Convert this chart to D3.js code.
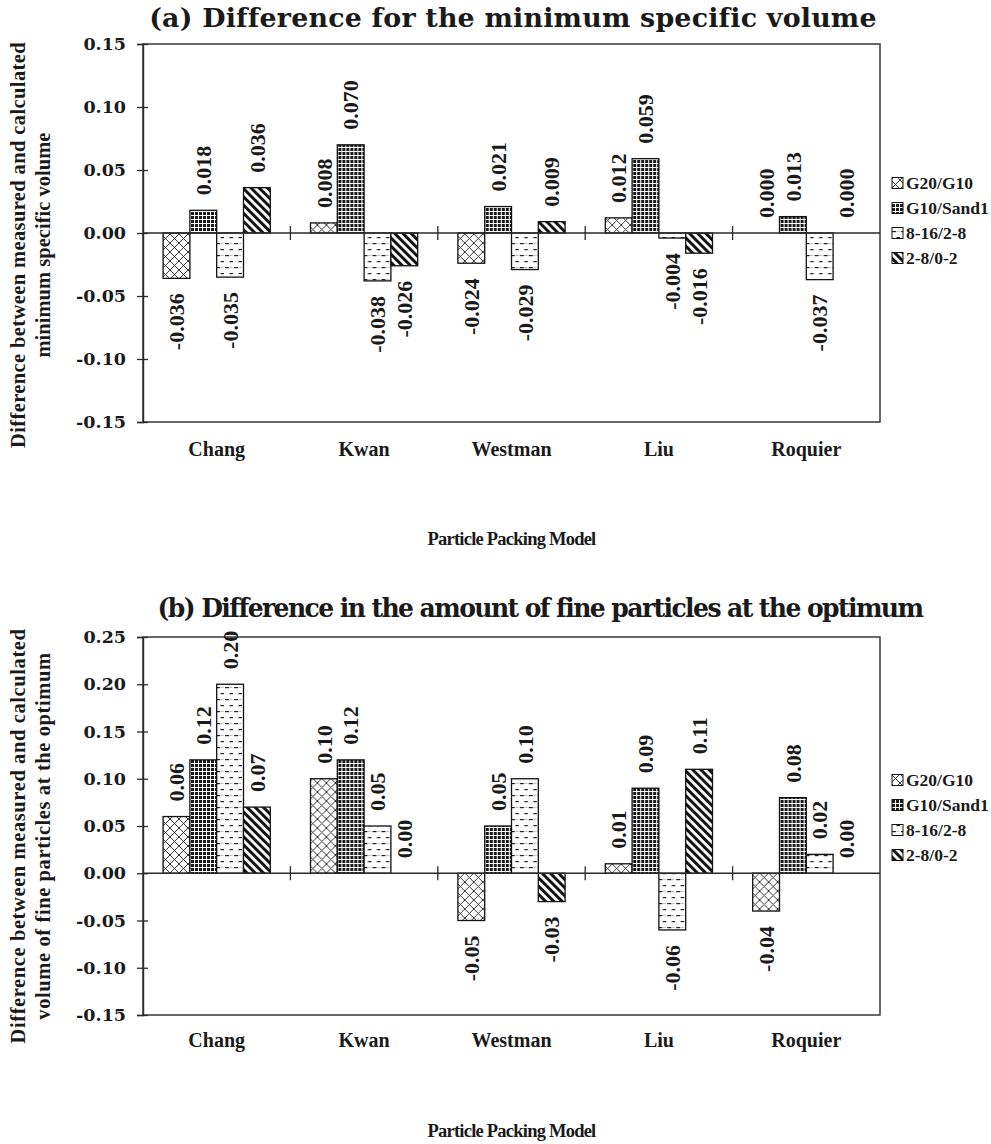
<!DOCTYPE html>
<html>
<head>
<meta charset="utf-8">
<script src="https://cdn.jsdelivr.net/npm/d3@7"></script>
<style>
  html, body { margin: 0; padding: 0; background: #fff; }
  svg { display: block; }
  .serif { font-family: 'DejaVu Serif', serif; font-weight: bold; fill: #1a1a1a; }
  .lbl { font-family: 'Liberation Serif', 'Times New Roman', serif; font-weight: bold; fill: #1a1a1a; }
</style>
</head>
<body>
<svg id="chart" width="991" height="1144"></svg>
<script>
// Particle packing models compared in both panels
const models = ["Chang", "Kwan", "Westman", "Liu", "Roquier"];
const mixes = ["G20/G10", "G10/Sand1", "8-16/2-8", "2-8/0-2"];

// (a) measured minus calculated minimum specific volume, one row per model
const specVolChang   = [-0.036, 0.018, -0.035, 0.036];
const specVolKwan    = [0.008, 0.070, -0.038, -0.026];
const specVolWestman = [-0.024, 0.021, -0.029, 0.009];
const specVolLiu     = [0.012, 0.059, -0.004, -0.016];
const specVolRoquier = [0.000, 0.013, -0.037, 0.000];

// (b) measured minus calculated volume of fine particles at the optimum
const fineChang   = [0.06, 0.12, 0.20, 0.07];
const fineKwan    = [0.10, 0.12, 0.05, 0.00];
const fineWestman = [-0.05, 0.05, 0.10, -0.03];
const fineLiu     = [0.01, 0.09, -0.06, 0.11];
const fineRoquier = [-0.04, 0.08, 0.02, 0.00];

const ticksA = [-0.15, -0.10, -0.05, 0.00, 0.05, 0.10, 0.15];
const ticksB = [-0.15, -0.10, -0.05, 0.00, 0.05, 0.10, 0.15, 0.20, 0.25];

const svg = d3.select("#chart");
const defs = svg.append("defs");

// Fill patterns, one per mix
function crossPattern(id) {
  const p = defs.append("pattern").attr("id", id).attr("patternUnits", "userSpaceOnUse")
    .attr("width", 9).attr("height", 9);
  p.append("rect").attr("width", 9).attr("height", 9).attr("fill", "#fff");
  p.append("path").attr("d", "M0,0L9,9M9,0L0,9").attr("stroke", "#222").attr("stroke-width", 0.9);
}
function gridPattern(id) {
  const p = defs.append("pattern").attr("id", id).attr("patternUnits", "userSpaceOnUse")
    .attr("width", 4).attr("height", 4);
  p.append("rect").attr("width", 4).attr("height", 4).attr("fill", "#fff");
  p.append("rect").attr("width", 3).attr("height", 3).attr("fill", "#1a1a1a");
}
function dashPattern(id) {
  const p = defs.append("pattern").attr("id", id).attr("patternUnits", "userSpaceOnUse")
    .attr("width", 9).attr("height", 12);
  p.append("rect").attr("width", 9).attr("height", 12).attr("fill", "#fff");
  p.append("rect").attr("x", 1).attr("y", 3).attr("width", 4).attr("height", 1.2).attr("fill", "#222");
  p.append("rect").attr("x", 5.5).attr("y", 9).attr("width", 4).attr("height", 1.2).attr("fill", "#222");
  p.append("rect").attr("x", 5.5).attr("y", 3).attr("width", 3).attr("height", 1).attr("fill", "#bbb");
}
function stripePattern(id) {
  const p = defs.append("pattern").attr("id", id).attr("patternUnits", "userSpaceOnUse")
    .attr("width", 5.8).attr("height", 5.8).attr("patternTransform", "rotate(-45)");
  p.append("rect").attr("width", 5.8).attr("height", 5.8).attr("fill", "#fff");
  p.append("rect").attr("width", 3).attr("height", 5.8).attr("fill", "#111");
}
crossPattern("pCross");
gridPattern("pGrid");
dashPattern("pDash");
stripePattern("pStripe");
const fills = ["url(#pCross)", "url(#pGrid)", "url(#pDash)", "url(#pStripe)"];

// bring a text run to a given width: tweak letter spacing first, then font size
function fit(sel, target, minLs) {
  sel.each(function () {
    const t = d3.select(this);
    const n = this.getNumberOfChars();
    let w = this.getComputedTextLength();
    let ls = Math.max(minLs, Math.min(0.6, (target - w) / n));
    t.style("letter-spacing", ls + "px");
    w = this.getComputedTextLength();
    if (w > target) {
      const fs = parseFloat(t.attr("font-size"));
      t.attr("font-size", fs * target / w);
    }
  });
}

function drawPanel(cfg) {
  const { rows, ticks, top, bottom, left, right, digits } = cfg;
  const g = svg.append("g");

  const x0 = d3.scaleBand().domain(models).range([left, right]).paddingInner(0).paddingOuter(0);
  const x1 = d3.scaleBand().domain(mixes).range([0, x0.bandwidth()]).paddingInner(0).paddingOuter(0.75);
  const y = d3.scaleLinear().domain([ticks[0], ticks[ticks.length - 1]]).range([bottom, top]);

  // plot frame
  g.append("rect").attr("x", left).attr("y", top).attr("width", right - left).attr("height", bottom - top)
    .attr("fill", "none").attr("stroke", "#2a2a2a").attr("stroke-width", 1.4);

  // bars
  const groups = g.selectAll("g.grp").data(models).join("g")
    .attr("transform", d => `translate(${x0(d)},0)`);
  groups.selectAll("rect").data((m, i) => rows[i].map((v, j) => ({ v, s: mixes[j], j })))
    .join("rect")
    .attr("x", d => x1(d.s))
    .attr("y", d => y(Math.max(0, d.v)))
    .attr("width", x1.bandwidth())
    .attr("height", d => Math.abs(y(d.v) - y(0)))
    .attr("fill", d => fills[d.j])
    .attr("stroke", "#111").attr("stroke-width", 1.3);

  // value labels, rotated, just outside the bar end
  groups.selectAll("text").data((m, i) => rows[i].map((v, j) => ({ v, s: mixes[j] })))
    .join("text")
    .attr("class", "lbl")
    .attr("font-size", 22)
    .attr("text-anchor", d => d.v >= 0 ? "start" : "end")
    .attr("dy", "0.35em")
    .attr("transform", d => {
      const cx = x1(d.s) + x1.bandwidth() / 2;
      const cy = d.v >= 0 ? y(d.v) - 15 : y(d.v) + 15;
      return `translate(${cx},${cy}) rotate(-90)`;
    })
    .text(d => d.v.toFixed(digits));

  // left axis
  const ax = d3.axisLeft(y).tickValues(ticks).tickSize(6).tickPadding(11)
    .tickFormat(d => d.toFixed(2));
  const axg = g.append("g").attr("transform", `translate(${left},0)`).call(ax);
  axg.select(".domain").attr("stroke", "#2a2a2a").attr("stroke-width", 1.4);
  axg.selectAll(".tick line").attr("x2", -6).attr("x1", 5).attr("stroke", "#2a2a2a").attr("stroke-width", 1.3);
  axg.selectAll(".tick text").attr("class", "serif").attr("font-size", 17.5)
    .attr("font-family", null).attr("fill", null);

  // category axis along zero
  const y0 = y(0);
  g.append("line").attr("x1", left).attr("x2", right).attr("y1", y0).attr("y2", y0)
    .attr("stroke", "#2a2a2a").attr("stroke-width", 1.4);
  g.selectAll("line.sep").data(models.slice(1)).join("line").attr("class", "sep")
    .attr("x1", d => x0(d)).attr("x2", d => x0(d))
    .attr("y1", y0 - 7).attr("y2", y0 + 7)
    .attr("stroke", "#2a2a2a").attr("stroke-width", 1.3);

  // category names below the frame
  g.selectAll("text.cat").data(models).join("text").attr("class", "lbl cat")
    .attr("font-size", 20).attr("text-anchor", "middle")
    .attr("x", d => x0(d) + x0.bandwidth() / 2).attr("y", cfg.catY)
    .text(d => d);

  // axis title
  g.append("text").attr("class", "lbl").attr("font-size", 18.5).attr("text-anchor", "middle")
    .attr("x", (left + right) / 2).attr("y", cfg.xTitleY)
    .text("Particle Packing Model")
    .call(fit, 168, -0.8);

  // chart title
  g.append("text").attr("class", "serif").attr("font-size", 27).attr("text-anchor", "middle")
    .attr("x", cfg.titleX).attr("y", cfg.titleY)
    .text(cfg.title)
    .call(fit, cfg.titleLen, -1.6);

  // y-axis title, two lines
  cfg.yTitle.forEach((t, i) => {
    g.append("text").attr("class", "lbl").attr("font-size", 20.5).attr("text-anchor", "middle")
      .attr("dy", "0.35em")
      .attr("transform", `translate(${cfg.yTitleX[i]},${cfg.yTitleY}) rotate(-90)`)
      .text(t)
      .call(fit, cfg.yTitleLen[i], -0.6);
  });

  // legend
  const lg = g.append("g");
  mixes.forEach((s, i) => {
    const ly = cfg.legendY + i * 25;
    lg.append("rect").attr("x", 892).attr("y", ly - 5.5).attr("width", 11).attr("height", 11)
      .attr("fill", fills[i]).attr("stroke", "#111").attr("stroke-width", 1);
    lg.append("text").attr("class", "lbl").attr("font-size", 17.5)
      .attr("x", 906).attr("y", ly).attr("dy", "0.35em").text(s);
  });
}

drawPanel({
  rows: [specVolChang, specVolKwan, specVolWestman, specVolLiu, specVolRoquier],
  ticks: ticksA, top: 44, bottom: 422, left: 143, right: 880, digits: 3,
  catY: 456, xTitleY: 545,
  title: "(a) Difference for the minimum specific volume", titleX: 513, titleY: 27, titleLen: 728,
  yTitle: ["Difference between measured and calculated", "minimum specific volume"],
  yTitleX: [18, 43], yTitleY: 245, yTitleLen: [406, 225],
  legendY: 183
});

drawPanel({
  rows: [fineChang, fineKwan, fineWestman, fineLiu, fineRoquier],
  ticks: ticksB, top: 637, bottom: 1015, left: 143, right: 880, digits: 2,
  catY: 1047, xTitleY: 1137,
  title: "(b) Difference in the amount of fine particles at the optimum", titleX: 540, titleY: 617, titleLen: 772,
  yTitle: ["Difference between measured and calculated", "volume of fine particles at the optimum"],
  yTitleX: [18, 43], yTitleY: 836, yTitleLen: [420, 375],
  legendY: 780
});
</script>
</body>
</html>
